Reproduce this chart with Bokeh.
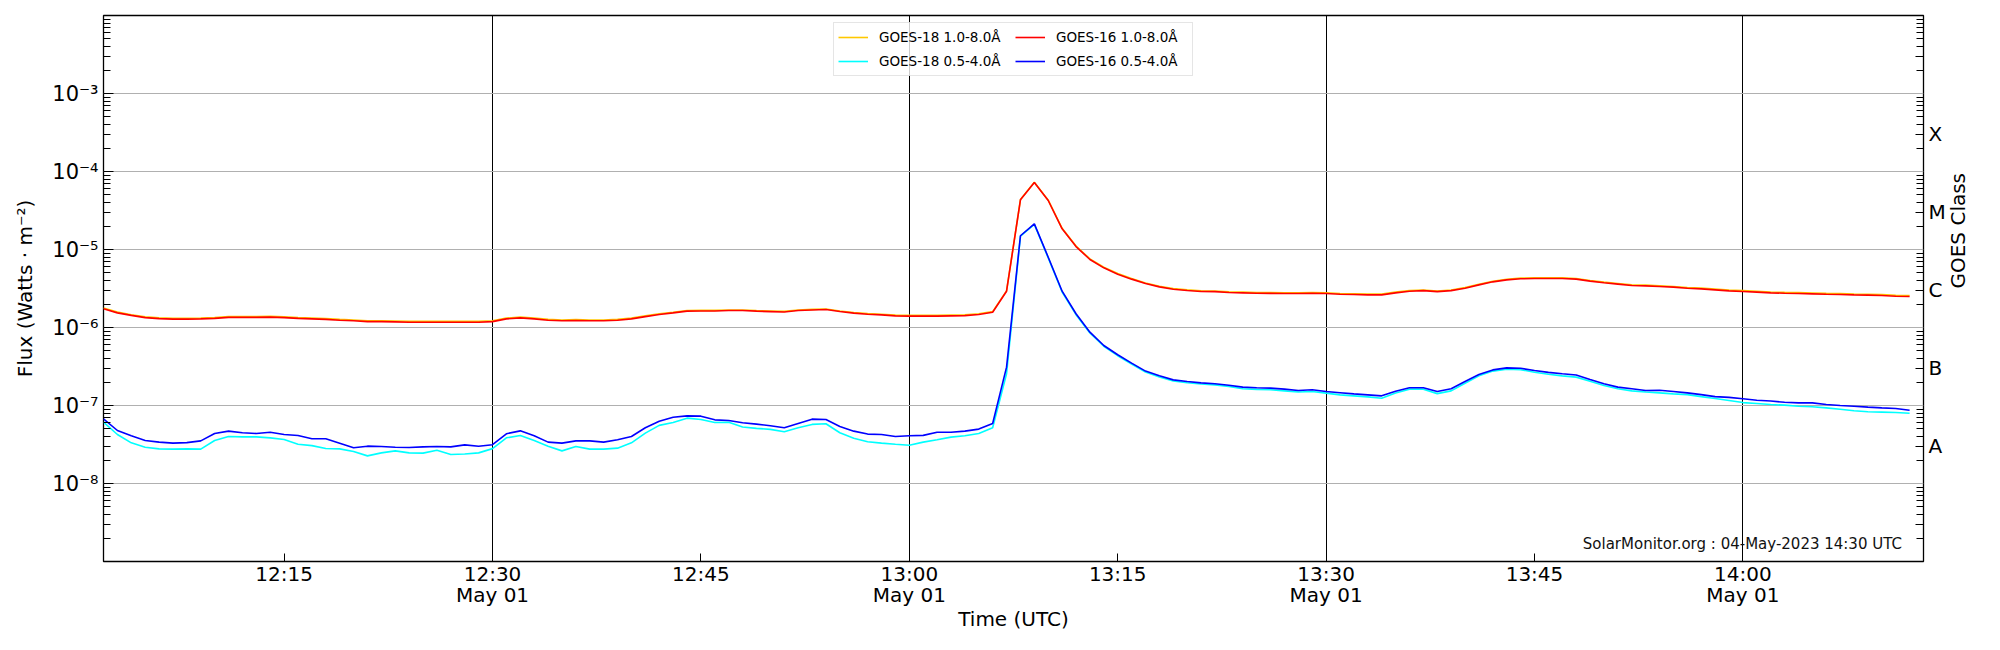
import math
import pandas as pd
from bokeh.plotting import figure
from bokeh.models import Range1d, FixedTicker, LogAxis, Legend, LegendItem, Label
from bokeh.embed import file_html
from bokeh.resources import INLINE

# ---------------- data (1-minute cadence, 12:02 .. 14:12 UTC, 1 May 2023) ----------------
start_time = "2023-05-01 12:02"
n_points = 131

goes16_long = [
    1.74e-6, 1.54e-6, 1.43e-6, 1.34e-6, 1.30e-6, 1.28e-6, 1.28e-6, 1.29e-6, 1.31e-6, 1.35e-6,
    1.35e-6, 1.35e-6, 1.36e-6, 1.34e-6, 1.31e-6, 1.29e-6, 1.27e-6, 1.24e-6, 1.22e-6, 1.19e-6,
    1.19e-6, 1.18e-6, 1.17e-6, 1.17e-6, 1.17e-6, 1.17e-6, 1.17e-6, 1.17e-6, 1.19e-6, 1.29e-6,
    1.33e-6, 1.29e-6, 1.24e-6, 1.22e-6, 1.23e-6, 1.22e-6, 1.22e-6, 1.24e-6, 1.29e-6, 1.38e-6,
    1.47e-6, 1.54e-6, 1.62e-6, 1.63e-6, 1.63e-6, 1.65e-6, 1.65e-6, 1.62e-6, 1.60e-6, 1.58e-6,
    1.65e-6, 1.68e-6, 1.70e-6, 1.60e-6, 1.53e-6, 1.48e-6, 1.45e-6, 1.41e-6, 1.40e-6, 1.40e-6,
    1.40e-6, 1.41e-6, 1.42e-6, 1.47e-6, 1.57e-6, 2.92e-6, 4.33e-5, 7.23e-5, 4.25e-5, 1.84e-5,
    1.09e-5, 7.45e-6, 5.82e-6, 4.83e-6, 4.17e-6, 3.67e-6, 3.32e-6, 3.10e-6, 2.98e-6, 2.90e-6,
    2.88e-6, 2.81e-6, 2.78e-6, 2.75e-6, 2.74e-6, 2.73e-6, 2.73e-6, 2.75e-6, 2.73e-6, 2.67e-6,
    2.65e-6, 2.62e-6, 2.62e-6, 2.78e-6, 2.92e-6, 2.97e-6, 2.88e-6, 2.97e-6, 3.19e-6, 3.52e-6,
    3.85e-6, 4.08e-6, 4.21e-6, 4.25e-6, 4.25e-6, 4.25e-6, 4.17e-6, 3.93e-6, 3.74e-6, 3.60e-6,
    3.45e-6, 3.42e-6, 3.36e-6, 3.29e-6, 3.19e-6, 3.13e-6, 3.04e-6, 2.95e-6, 2.90e-6, 2.84e-6,
    2.78e-6, 2.75e-6, 2.73e-6, 2.70e-6, 2.67e-6, 2.65e-6, 2.62e-6, 2.60e-6, 2.57e-6, 2.52e-6,
    2.50e-6,
]

goes18_long = [
    1.78e-6, 1.58e-6, 1.46e-6, 1.37e-6, 1.33e-6, 1.31e-6, 1.31e-6, 1.32e-6, 1.34e-6, 1.38e-6,
    1.38e-6, 1.38e-6, 1.39e-6, 1.37e-6, 1.34e-6, 1.32e-6, 1.30e-6, 1.27e-6, 1.25e-6, 1.22e-6,
    1.22e-6, 1.21e-6, 1.20e-6, 1.20e-6, 1.20e-6, 1.20e-6, 1.20e-6, 1.20e-6, 1.22e-6, 1.32e-6,
    1.36e-6, 1.32e-6, 1.27e-6, 1.25e-6, 1.26e-6, 1.25e-6, 1.25e-6, 1.27e-6, 1.32e-6, 1.41e-6,
    1.50e-6, 1.57e-6, 1.65e-6, 1.66e-6, 1.66e-6, 1.68e-6, 1.68e-6, 1.65e-6, 1.63e-6, 1.61e-6,
    1.68e-6, 1.71e-6, 1.73e-6, 1.63e-6, 1.56e-6, 1.51e-6, 1.48e-6, 1.44e-6, 1.43e-6, 1.43e-6,
    1.43e-6, 1.44e-6, 1.45e-6, 1.50e-6, 1.60e-6, 2.95e-6, 4.36e-5, 7.28e-5, 4.29e-5, 1.87e-5,
    1.11e-5, 7.58e-6, 5.92e-6, 4.91e-6, 4.24e-6, 3.73e-6, 3.38e-6, 3.16e-6, 3.04e-6, 2.96e-6,
    2.94e-6, 2.87e-6, 2.84e-6, 2.81e-6, 2.80e-6, 2.79e-6, 2.79e-6, 2.81e-6, 2.79e-6, 2.73e-6,
    2.71e-6, 2.68e-6, 2.68e-6, 2.84e-6, 2.98e-6, 3.03e-6, 2.94e-6, 3.03e-6, 3.25e-6, 3.59e-6,
    3.92e-6, 4.16e-6, 4.29e-6, 4.33e-6, 4.33e-6, 4.33e-6, 4.25e-6, 4.01e-6, 3.82e-6, 3.67e-6,
    3.52e-6, 3.49e-6, 3.43e-6, 3.36e-6, 3.26e-6, 3.20e-6, 3.11e-6, 3.02e-6, 2.97e-6, 2.91e-6,
    2.85e-6, 2.82e-6, 2.80e-6, 2.77e-6, 2.74e-6, 2.72e-6, 2.69e-6, 2.67e-6, 2.64e-6, 2.59e-6,
    2.57e-6,
]

goes16_short = [
    6.75e-8, 4.78e-8, 4.09e-8, 3.56e-8, 3.39e-8, 3.29e-8, 3.34e-8, 3.52e-8, 4.38e-8, 4.69e-8,
    4.47e-8, 4.38e-8, 4.55e-8, 4.25e-8, 4.12e-8, 3.74e-8, 3.74e-8, 3.29e-8, 2.87e-8, 3.01e-8,
    2.98e-8, 2.92e-8, 2.90e-8, 2.95e-8, 2.98e-8, 2.95e-8, 3.13e-8, 3.01e-8, 3.14e-8, 4.34e-8,
    4.73e-8, 4.09e-8, 3.39e-8, 3.29e-8, 3.52e-8, 3.52e-8, 3.39e-8, 3.63e-8, 4.01e-8, 5.18e-8,
    6.29e-8, 7.08e-8, 7.36e-8, 7.30e-8, 6.55e-8, 6.43e-8, 6.00e-8, 5.77e-8, 5.51e-8, 5.18e-8,
    5.88e-8, 6.68e-8, 6.62e-8, 5.39e-8, 4.69e-8, 4.30e-8, 4.25e-8, 4.01e-8, 4.09e-8, 4.14e-8,
    4.55e-8, 4.55e-8, 4.69e-8, 4.98e-8, 5.88e-8, 3.10e-7, 1.50e-5, 2.13e-5, 7.97e-6, 2.92e-6,
    1.50e-6, 8.71e-7, 5.88e-7, 4.47e-7, 3.49e-7, 2.76e-7, 2.40e-7, 2.13e-7, 2.03e-7, 1.95e-7,
    1.90e-7, 1.82e-7, 1.72e-7, 1.69e-7, 1.67e-7, 1.62e-7, 1.56e-7, 1.59e-7, 1.51e-7, 1.46e-7,
    1.41e-7, 1.37e-7, 1.33e-7, 1.52e-7, 1.69e-7, 1.69e-7, 1.51e-7, 1.64e-7, 2.03e-7, 2.50e-7,
    2.86e-7, 3.04e-7, 3.00e-7, 2.81e-7, 2.66e-7, 2.55e-7, 2.46e-7, 2.15e-7, 1.90e-7, 1.72e-7,
    1.64e-7, 1.56e-7, 1.57e-7, 1.51e-7, 1.45e-7, 1.38e-7, 1.30e-7, 1.27e-7, 1.22e-7, 1.17e-7,
    1.14e-7, 1.10e-7, 1.08e-7, 1.08e-7, 1.03e-7, 1.00e-7, 9.80e-8, 9.53e-8, 9.33e-8, 9.16e-8,
    8.71e-8,
]

goes18_short = [
    6.11e-8, 4.25e-8, 3.32e-8, 2.92e-8, 2.78e-8, 2.76e-8, 2.78e-8, 2.76e-8, 3.56e-8, 4.01e-8,
    3.96e-8, 3.96e-8, 3.85e-8, 3.66e-8, 3.19e-8, 3.06e-8, 2.81e-8, 2.78e-8, 2.57e-8, 2.26e-8,
    2.47e-8, 2.62e-8, 2.47e-8, 2.45e-8, 2.67e-8, 2.35e-8, 2.39e-8, 2.47e-8, 2.80e-8, 3.85e-8,
    4.12e-8, 3.56e-8, 3.01e-8, 2.62e-8, 2.98e-8, 2.76e-8, 2.76e-8, 2.84e-8, 3.32e-8, 4.42e-8,
    5.56e-8, 6.05e-8, 6.88e-8, 6.62e-8, 6.05e-8, 6.11e-8, 5.30e-8, 5.09e-8, 4.94e-8, 4.60e-8,
    5.18e-8, 5.72e-8, 5.83e-8, 4.47e-8, 3.81e-8, 3.43e-8, 3.29e-8, 3.19e-8, 3.10e-8, 3.39e-8,
    3.63e-8, 3.93e-8, 4.09e-8, 4.38e-8, 5.18e-8, 2.55e-7, 1.48e-5, 2.10e-5, 7.80e-6, 2.85e-6,
    1.46e-6, 8.50e-7, 5.75e-7, 4.35e-7, 3.40e-7, 2.68e-7, 2.32e-7, 2.06e-7, 1.96e-7, 1.89e-7,
    1.84e-7, 1.76e-7, 1.64e-7, 1.61e-7, 1.59e-7, 1.54e-7, 1.49e-7, 1.51e-7, 1.44e-7, 1.37e-7,
    1.33e-7, 1.29e-7, 1.24e-7, 1.45e-7, 1.62e-7, 1.62e-7, 1.42e-7, 1.54e-7, 1.93e-7, 2.40e-7,
    2.76e-7, 2.92e-7, 2.88e-7, 2.67e-7, 2.52e-7, 2.40e-7, 2.31e-7, 2.05e-7, 1.80e-7, 1.64e-7,
    1.54e-7, 1.49e-7, 1.45e-7, 1.41e-7, 1.38e-7, 1.30e-7, 1.23e-7, 1.16e-7, 1.09e-7, 1.06e-7,
    1.03e-7, 1.01e-7, 9.80e-8, 9.62e-8, 9.33e-8, 8.97e-8, 8.55e-8, 8.30e-8, 8.23e-8, 8.13e-8,
    7.97e-8,
]

series_labels = ["GOES-18 1.0-8.0Å", "GOES-18 0.5-4.0Å", "GOES-16 1.0-8.0Å", "GOES-16 0.5-4.0Å"]

x_tick_times = ["2023-05-01 12:15", "2023-05-01 12:30", "2023-05-01 12:45", "2023-05-01 13:00",
                "2023-05-01 13:15", "2023-05-01 13:30", "2023-05-01 13:45", "2023-05-01 14:00"]
x_tick_labels = ["12:15", "12:30\nMay 01", "12:45", "13:00\nMay 01",
                 "13:15", "13:30\nMay 01", "13:45", "14:00\nMay 01"]
x_grid_times = ["2023-05-01 12:30", "2023-05-01 13:00", "2023-05-01 13:30", "2023-05-01 14:00"]

y_ticks = [1e-8, 1e-7, 1e-6, 1e-5, 1e-4, 1e-3]
y_tick_labels = ["10⁻⁸", "10⁻⁷", "10⁻⁶", "10⁻⁵", "10⁻⁴", "10⁻³"]
y_grid = [1e-9, 1e-8, 1e-7, 1e-6, 1e-5, 1e-4, 1e-3, 1e-2]

class_ticks = [3e-9, 3e-8, 3e-7, 3e-6, 3e-5, 3e-4, 3e-3]
class_labels = [" ", "A", "B", "C", "M", "X", " "]
class_axis_title = "GOES Class"

watermark = "SolarMonitor.org : 04-May-2023 14:30 UTC"

# ---------------- helpers ----------------
def ms(s):
    return pd.Timestamp(s).value / 1e6

times = pd.date_range(start_time, periods=n_points, freq="1min")
minor_ticks = [k * 10.0 ** e for e in range(-9, -2) for k in range(2, 10)]

FONT = "DejaVu Sans"
X_START, X_END = "2023-05-01 12:02", "2023-05-01 14:13"

p = figure(width=1984, height=634, x_axis_type="datetime", y_axis_type="log",
           x_range=Range1d(ms(X_START), ms(X_END)),
           y_range=Range1d(1e-9, 1e-2),
           output_backend="svg", toolbar_location=None,
           min_border_left=103, min_border_right=47, min_border_top=15, min_border_bottom=73)

p.outline_line_color = "black"
p.outline_line_width = 1.3
p.background_fill_color = "white"
p.border_fill_color = "white"

# lines (GOES-18 drawn first, GOES-16 on top)
r_y18l = p.line(times, goes18_long, line_color="#ffc800", line_width=1.6)
r_y18s = p.line(times, goes18_short, line_color="#00ffff", line_width=1.6)
r_y16l = p.line(times, goes16_long, line_color="#ff0000", line_width=1.6)
r_y16s = p.line(times, goes16_short, line_color="#0000ff", line_width=1.6)

# x axis
xa = p.xaxis[0]
xa.ticker = FixedTicker(ticks=[ms(t) for t in x_tick_times])
xa.major_label_overrides = {ms(t): lab for t, lab in zip(x_tick_times, x_tick_labels)}
xa.axis_label = "Time (UTC)"
xa.axis_label_text_font = FONT
xa.axis_label_text_font_style = "normal"
xa.axis_label_text_font_size = "20px"
xa.axis_label_text_color = "black"
xa.axis_label_text_line_height = 0.8
xa.axis_label_standoff = -3
xa.major_label_text_font = FONT
xa.major_label_text_font_size = "20px"
xa.major_label_text_color = "black"
xa.major_label_text_line_height = 0.88
xa.major_label_standoff = 0
xa.major_tick_in = 8
xa.major_tick_out = 0
xa.minor_tick_in = 0
xa.minor_tick_out = 0
xa.axis_line_color = None

# left y axis
ya = p.yaxis[0]
ya.ticker = FixedTicker(ticks=y_ticks, minor_ticks=minor_ticks)
ya.major_label_overrides = {t: lab for t, lab in zip(y_ticks, y_tick_labels)}
ya.axis_label = "Flux (Watts · m⁻²)"
ya.axis_label_text_font = FONT
ya.axis_label_text_font_style = "normal"
ya.axis_label_text_font_size = "20px"
ya.axis_label_text_color = "black"
ya.axis_label_standoff = 12
ya.major_label_text_font = FONT
ya.major_label_text_font_size = "21px"
ya.major_label_text_color = "black"
ya.major_label_standoff = 5
ya.major_tick_in = 10
ya.major_tick_out = 0
ya.minor_tick_in = 7
ya.minor_tick_out = 0
ya.axis_line_color = None

# right y axis: GOES class
ra = LogAxis(ticker=FixedTicker(ticks=class_ticks, minor_ticks=minor_ticks))
ra.major_label_overrides = {t: lab for t, lab in zip(class_ticks, class_labels)}
ra.major_label_text_font = FONT
ra.major_label_text_font_size = "20px"
ra.major_label_text_color = "black"
ra.major_label_standoff = 5
ra.major_tick_in = 8
ra.major_tick_out = 0
ra.minor_tick_in = 7
ra.minor_tick_out = 0
ra.axis_line_color = None
ra.axis_label = class_axis_title
ra.axis_label_text_font = FONT
ra.axis_label_text_font_style = "normal"
ra.axis_label_text_font_size = "20px"
ra.axis_label_text_color = "black"
ra.axis_label_text_line_height = 0.8
ra.axis_label_standoff = 9
if "axis_label_orientation" in ra.properties():
    ra.axis_label_orientation = math.pi / 2
p.add_layout(ra, "right")

# grids
p.xgrid.ticker = FixedTicker(ticks=[ms(t) for t in x_grid_times])
p.xgrid.grid_line_color = "black"
p.xgrid.grid_line_width = 1.0
p.ygrid.ticker = FixedTicker(ticks=y_grid)
p.ygrid.grid_line_color = "#b0b0b0"
p.ygrid.grid_line_width = 1.2

# legend
items = [LegendItem(label=series_labels[0], renderers=[r_y18l]),
         LegendItem(label=series_labels[1], renderers=[r_y18s]),
         LegendItem(label=series_labels[2], renderers=[r_y16l]),
         LegendItem(label=series_labels[3], renderers=[r_y16s])]
leg = Legend(items=items, location="top_center", ncols=2, orientation="vertical",
             margin=7, padding=4, spacing=4, glyph_width=30, glyph_height=20,
             label_height=20, label_width=132, label_standoff=11,
             label_text_font=FONT, label_text_font_size="13.5px", label_text_color="black",
             border_line_color="#cccccc", border_line_width=1,
             background_fill_color="white", background_fill_alpha=0.8)
p.add_layout(leg)

# watermark
p.add_layout(Label(x=ms("2023-05-01 14:11:27"), y=1.7e-9, text=watermark,
                   text_align="right", text_baseline="middle",
                   text_font=FONT, text_font_size="15px", text_color="#111111"))

open("out.html", "w").write(file_html(p, INLINE))
